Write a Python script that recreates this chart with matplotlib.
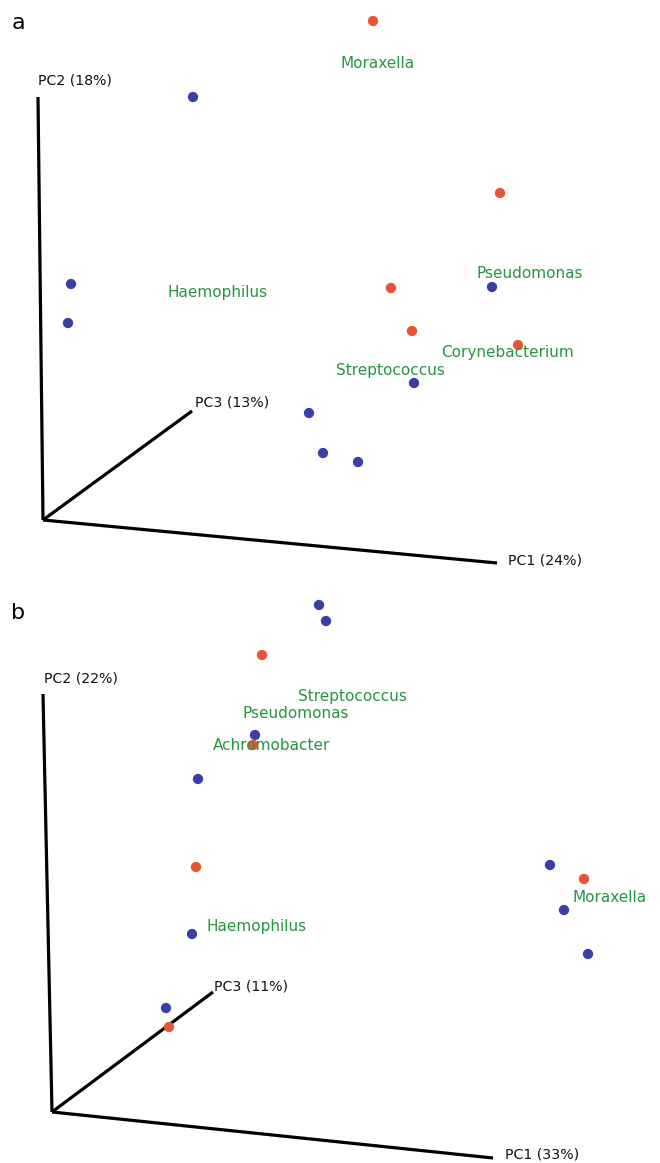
import matplotlib.pyplot as plt

# projected PCoA coordinates (screen units, origin at the axes corner)
# panel a
a_red_x = [330, 457, 348, 369, 475]
a_red_y = [499, 327, 232, 189, 175]
a_blue_x = [150, 28, 25, 449, 371, 266, 280, 315]
a_blue_y = [423, 236, 197, 233, 137, 107, 67, 58]
a_axis_ends = {"PC1 (24%)": (454, -43), "PC2 (18%)": (-5, 423), "PC3 (13%)": (149, 109)}
a_axis_label_pos = {"PC1 (24%)": (465, -40), "PC2 (18%)": (-5, 440), "PC3 (13%)": (152, 117)}
a_genus = ["Moraxella", "Haemophilus", "Pseudomonas", "Corynebacterium", "Streptococcus"]
a_genus_x = [335, 175, 487, 464, 347]
a_genus_y = [457, 228, 247, 167, 150]

# panel b
b_red_x = [210, 201, 144, 532, 117]
b_red_y = [457, 367, 245, 233, 85]
b_blue_x = [267, 274, 203, 146, 498, 512, 536, 140, 114]
b_blue_y = [507, 491, 377, 333, 247, 202, 158, 178, 104]
b_axis_ends = {"PC1 (33%)": (441, -46), "PC2 (22%)": (-9, 418), "PC3 (11%)": (161, 120)}
b_axis_label_pos = {"PC1 (33%)": (453, -43), "PC2 (22%)": (-8, 433), "PC3 (11%)": (162, 126)}
b_genus = ["Streptococcus", "Pseudomonas", "Achromobacter", "Haemophilus", "Moraxella"]
b_genus_x = [246, 191, 161, 155, 520]
b_genus_y = [415, 398, 366, 186, 214]

RED = "#ea5436"
BLUE = "#3a3ea6"
GREEN = "#279444"


def draw_panel(ax, red_x, red_y, blue_x, blue_y, ends, label_pos, genus, gx, gy, center):
    for name, (ex, ey) in ends.items():
        ax.plot([0, ex], [0, ey], color="black", lw=2.3, solid_capstyle="butt", zorder=1)
        lx, ly = label_pos[name]
        ax.text(lx, ly, name, ha="left", va="center", fontsize=10.2, color="#111111")
    ax.scatter(blue_x, blue_y, s=55, color=BLUE, edgecolors="none", zorder=3)
    ax.scatter(red_x, red_y, s=55, color=RED, edgecolors="none", zorder=3)
    for name, x, y in zip(genus, gx, gy):
        ax.text(x, y, name, ha="center" if center else "left", va="center",
                fontsize=11, color=GREEN, zorder=4)
    ax.set_axis_off()


fig = plt.figure(figsize=(6.6, 11.63), dpi=100)

# each panel: 1 data unit = 1 pixel
ax_a = fig.add_axes([0, 0.5, 1, 0.5])
ax_a.set_xlim(-43, 617)
ax_a.set_ylim(-61.5, 520)
draw_panel(ax_a, a_red_x, a_red_y, a_blue_x, a_blue_y, a_axis_ends, a_axis_label_pos,
           a_genus, a_genus_x, a_genus_y, center=True)

ax_b = fig.add_axes([0, 0, 1, 0.5])
ax_b.set_xlim(-52, 608)
ax_b.set_ylim(-51, 530.5)
draw_panel(ax_b, b_red_x, b_red_y, b_blue_x, b_blue_y, b_axis_ends, b_axis_label_pos,
           b_genus, b_genus_x, b_genus_y, center=False)

fig.text(18 / 660, 1 - 23 / 1163, "a", fontsize=16, ha="center", va="center")
fig.text(18 / 660, 1 - 613 / 1163, "b", fontsize=16, ha="center", va="center")

fig.savefig("out.png", dpi=100)
